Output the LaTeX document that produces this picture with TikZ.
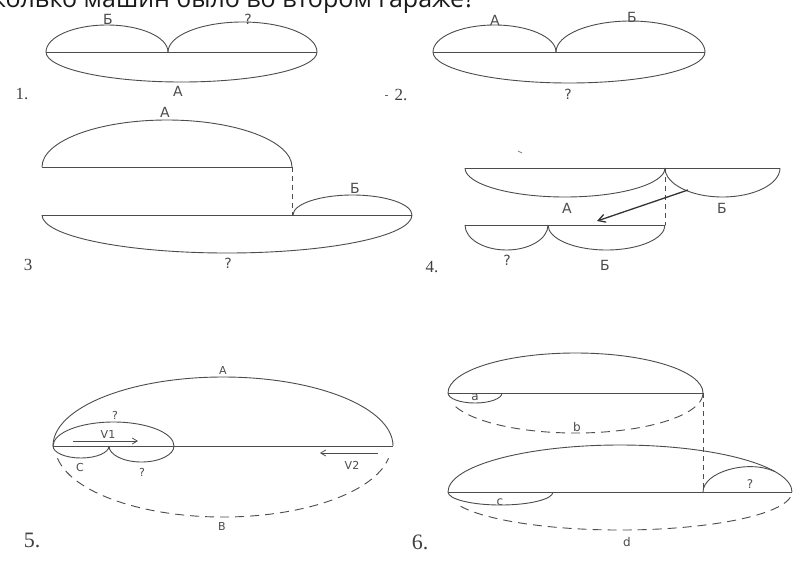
\documentclass[tikz,border=0pt]{standalone}
\usepackage{fontspec}
\setmainfont{DejaVu Sans}
\newfontfamily\numfont{Liberation Serif}
\newfontfamily\headfont{Open Sans}
\usetikzlibrary{arrows.meta}
\begin{document}
\begin{tikzpicture}[x=1pt,y=1pt,
 ln/.style={draw=black!70, line width=0.9pt},
 dsh/.style={ln, dash pattern=on 9pt off 6pt},
 vdsh/.style={ln, line width=0.7pt, dash pattern=on 5pt off 4pt},
 lbl/.style={text=black!70, font=\fontsize{14}{14}\selectfont, inner sep=0pt},
 lbls/.style={lbl, font=\fontsize{11}{11}\selectfont},
 lblm/.style={lbl, font=\fontsize{12}{12}\selectfont},
 num/.style={text=black!75, font=\numfont\fontsize{17}{17}\selectfont, inner sep=0pt},
 numl/.style={num, font=\numfont\fontsize{22}{22}\selectfont},
 arr/.style={ln, line width=0.8pt, -{Straight Barb[length=5pt,width=6pt]}},
 arrb/.style={draw=black!80, line width=1.3pt, -{Straight Barb[length=7pt,width=8pt]}},
]
\useasboundingbox (0,0) rectangle (800,-571);
\fill[white] (0,0) rectangle (800,-571);
\begin{scope}
\clip (0,0) rectangle (800,-571);
\node[anchor=base east, font=\headfont\fontsize{25}{25}\selectfont, text=black!90, inner sep=0pt] (head) at (475,-7) {Сколько машин было во втором гараже?};
\end{scope}

% ---------- 1 ----------
\draw[ln] (46,-52) -- (317,-52);
\draw[ln] (46,-52) arc[start angle=180,end angle=0,x radius=61,y radius=27];
\draw[ln] (168,-52) arc[start angle=180,end angle=0,x radius=74.5,y radius=30];
\draw[ln] (46,-52) arc[start angle=180,end angle=360,x radius=135.5,y radius=30];
\node[lbl] (l1a) at (108,-19) {Б};
\node[lbl] (l1b) at (248,-19) {?};
\node[lbl] (l1c) at (178,-91) {А};
\node[num] (n1) at (22,-94) {1.};

% ---------- 2 ----------
\draw[ln] (433,-52) -- (705,-52);
\draw[ln] (433,-52) arc[start angle=180,end angle=0,x radius=61.5,y radius=27];
\draw[ln] (556,-52) arc[start angle=180,end angle=0,x radius=74.5,y radius=31];
\draw[ln] (433,-52) arc[start angle=180,end angle=360,x radius=136,y radius=31];
\node[lbl] (l2a) at (495,-20) {А};
\node[lbl] (l2b) at (632,-17) {Б};
\node[lbl] (l2c) at (568,-94) {?};
\node[num] (n2) at (401,-95) {2.};
\draw[black!60, line width=0.8pt] (385,-95) -- (388,-95);

% ---------- 3 ----------
\draw[ln] (42,-167) -- (292,-167);
\draw[ln] (42,-167) arc[start angle=180,end angle=0,x radius=125,y radius=47];
\draw[vdsh] (292,-167) -- (292,-215);
\draw[ln] (42,-215) -- (412,-215);
\draw[ln] (293,-215) arc[start angle=180,end angle=0,x radius=59.5,y radius=20];
\draw[ln] (42,-215) arc[start angle=180,end angle=360,x radius=185,y radius=38];
\node[lbl] (l3a) at (165,-112) {А};
\node[lbl] (l3b) at (355,-188) {Б};
\node[lbl] (l3c) at (228,-263) {?};
\node[num] (n3) at (28,-265) {3};

% ---------- 4 ----------
\draw[ln] (465,-168) -- (780,-168);
\draw[ln] (465,-168) arc[start angle=180,end angle=360,x radius=100,y radius=29];
\draw[ln] (665,-168) arc[start angle=180,end angle=360,x radius=57.5,y radius=29];
\draw[vdsh] (665,-168) -- (665,-225);
\draw[ln] (465,-225) -- (665,-225);
\draw[ln] (465,-225) arc[start angle=180,end angle=360,x radius=41.5,y radius=25];
\draw[ln] (548,-225) arc[start angle=180,end angle=360,x radius=58.5,y radius=25];
\coordinate (a4s) at (688,-190);
\coordinate (a4e) at (597,-221);
\draw[arrb] (a4s) -- (a4e);
\node[lbl] (l4a) at (567,-208) {А};
\node[lbl] (l4b) at (722,-208) {Б};
\node[lbl] (l4c) at (507,-260) {?};
\node[lbl] (l4d) at (605,-265) {Б};
\node[num] (n4) at (432,-267) {4.};
\draw[black!50, line width=0.7pt] (518,-151) -- (522,-153);

% ---------- 5 ----------
\draw[ln] (53,-446) -- (393,-446);
\draw[ln] (53,-446) arc[start angle=180,end angle=0,x radius=170,y radius=69];
\draw[ln] (53,-446) arc[start angle=180,end angle=0,x radius=60.5,y radius=24];
\draw[ln] (53,-446) arc[start angle=180,end angle=360,x radius=28,y radius=12];
\draw[ln] (109,-446) arc[start angle=180,end angle=360,x radius=32.5,y radius=16];
\draw[dsh] (223,-446) ++(190:168 and 71) arc[start angle=190,end angle=350,x radius=168,y radius=71];
\coordinate (v1s) at (73,-441);
\coordinate (v1e) at (138,-441);
\draw[arr] (v1s) -- (v1e);
\coordinate (v2s) at (378,-453);
\coordinate (v2e) at (320,-453);
\draw[arr] (v2s) -- (v2e);
\node[lbls] (l5a) at (223,-370) {А};
\node[lbls] (l5b) at (115,-415) {?};
\node[lbls] (l5c) at (108,-434) {V1};
\node[lbls] (l5d) at (80,-467) {С};
\node[lbls] (l5e) at (142,-472) {?};
\node[lbls] (l5f) at (352,-465) {V2};
\node[lbls] (l5g) at (222,-526) {В};
\node[numl] (n5) at (32,-540) {5.};

% ---------- 6 ----------
\draw[ln] (448,-393) -- (703,-393);
\draw[ln] (448,-393) arc[start angle=180,end angle=0,x radius=127.5,y radius=40];
\draw[ln] (448,-393) arc[start angle=180,end angle=360,x radius=27,y radius=10];
\draw[dsh] (575.5,-393) ++(200:127.5 and 40) arc[start angle=200,end angle=360,x radius=127.5,y radius=40];
\draw[vdsh] (703,-393) -- (703,-492);
\draw[ln] (448,-492) -- (792,-492);
\draw[ln] (448,-492) arc[start angle=180,end angle=0,x radius=172,y radius=47];
\draw[ln] (703,-492) .. controls (703,-472) and (748,-459) .. (775,-471.6);
\draw[ln] (448,-492) arc[start angle=180,end angle=360,x radius=52.5,y radius=13];
\draw[dsh] (620,-492) ++(202:172 and 38) arc[start angle=202,end angle=352,x radius=172,y radius=38];
\node[lblm] (l6a) at (475,-397) {a};
\node[lblm] (l6b) at (577,-427) {b};
\node[lblm] (l6c) at (750,-484) {?};
\node[lblm] (l6d) at (500,-502) {c};
\node[lblm] (l6e) at (627,-542) {d};
\node[numl] (n6) at (420,-542) {6.};
\end{tikzpicture}
\end{document}
